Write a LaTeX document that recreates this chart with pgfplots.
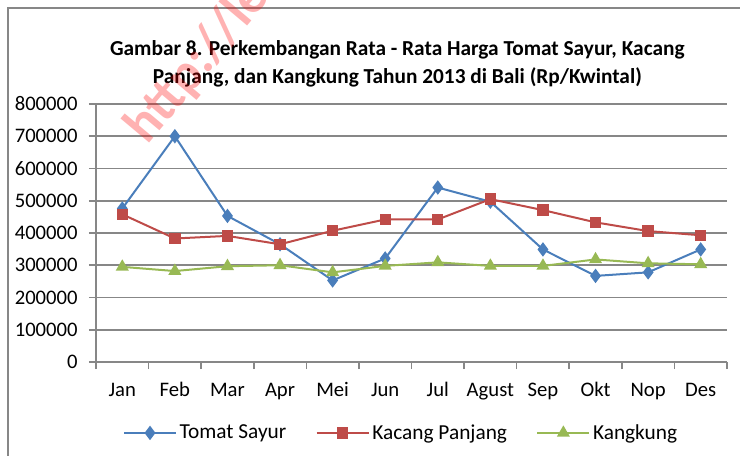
\documentclass[border=0pt]{standalone}
\usepackage{pgfplots}
\pgfplotsset{compat=1.18}
\usepackage{fontspec}
\setmainfont{Carlito}
\definecolor{tomat}{HTML}{4A7EBB}
\definecolor{kacang}{HTML}{BE4B48}
\definecolor{kangkung}{HTML}{98B954}
\definecolor{gridgray}{HTML}{878787}
\newcommand{\chartfont}{\fontsize{15.5}{18}\selectfont}

\begin{document}
\begin{tikzpicture}
% page: 740 x 456 px, 1 px = 0.75pt, origin top-left
\useasboundingbox (0pt,0pt) rectangle (555pt,-342pt);
\begin{scope}
\clip (0pt,0pt) rectangle (555pt,-342pt);
\draw[gridgray, line width=1.5pt] (6pt,-352pt) -- (6pt,-6pt) -- (570pt,-6pt);

\node[font=\bfseries\fontsize{16}{21}\selectfont, align=center] at (298pt,-48pt)
  {Gambar 8. Perkembangan Rata - Rata Harga Tomat Sayur, Kacang\\
   Panjang, dan Kangkung Tahun 2013 di Bali (Rp/Kwintal)};

\begin{axis}[
  at={(72pt,-271.5pt)}, anchor=south west,
  scale only axis, width=473.25pt, height=193.5pt,
  xmin=0.5, xmax=12.5, ymin=0, ymax=800000,
  xtick={0.5,1.5,...,12.5}, x tick label as interval,
  xticklabels={Jan,Feb,Mar,Apr,Mei,Jun,Jul,Agust,Sep,Okt,Nop,Des},
  ytick={0,100000,...,800000},
  scaled y ticks=false,
  /pgf/number format/fixed, /pgf/number format/1000 sep={},
  /pgf/number format/assume math mode=true,
  axis lines*=left,
  axis line style={gridgray, line width=1.2pt},
  tick style={gridgray, line width=1.2pt},
  tick align=outside, major tick length=5.25pt,
  ymajorgrids, grid style={gridgray, line width=1.2pt},
  tick label style={font=\chartfont, text=black},
  yticklabel style={xshift=-5pt},
  xticklabel style={yshift=-6pt, text height=11pt, text depth=3pt},
  legend columns=3,
  legend style={at={(axis description cs:0.484,-0.275)}, anchor=center,
    draw=none, fill=none, font=\fontsize{16}{18}\selectfont,
    /tikz/every even column/.append style={column sep=20pt}},
  legend image code/.code={\draw[mark repeat=2,mark phase=2,#1]
    plot coordinates {(0pt,0pt) (19.5pt,0pt) (39pt,0pt)};},
  every axis plot/.append style={line width=1.5pt},
]
\addplot[tomat, mark=diamond*, mark size=4.2pt, mark options={solid, fill=tomat}]
  coordinates {(1,476000) (2,700000) (3,453000) (4,365000) (5,253000) (6,321000)
               (7,541000) (8,497000) (9,349000) (10,267000) (11,278000) (12,349000)};
\addplot[kacang, mark=square*, mark size=3.5pt, mark options={solid, fill=kacang}]
  coordinates {(1,458000) (2,383000) (3,391000) (4,365000) (5,407000) (6,442000)
               (7,442000) (8,505000) (9,471000) (10,433000) (11,406000) (12,393000)};
\addplot[kangkung, mark=triangle*, mark size=4.2pt, mark options={solid, fill=kangkung}]
  coordinates {(1,295000) (2,282000) (3,297000) (4,300000) (5,278000) (6,298000)
               (7,309000) (8,298000) (9,298000) (10,318000) (11,306000) (12,303000)};
\legend{Tomat Sayur, Kacang Panjang, Kangkung}
\end{axis}

\node[rotate=50, font=\bfseries\fontsize{40}{40}\selectfont, text=red, opacity=0.3,
  anchor=west] at (100pt,-105pt) {http://le};
\end{scope}
\end{tikzpicture}
\end{document}
